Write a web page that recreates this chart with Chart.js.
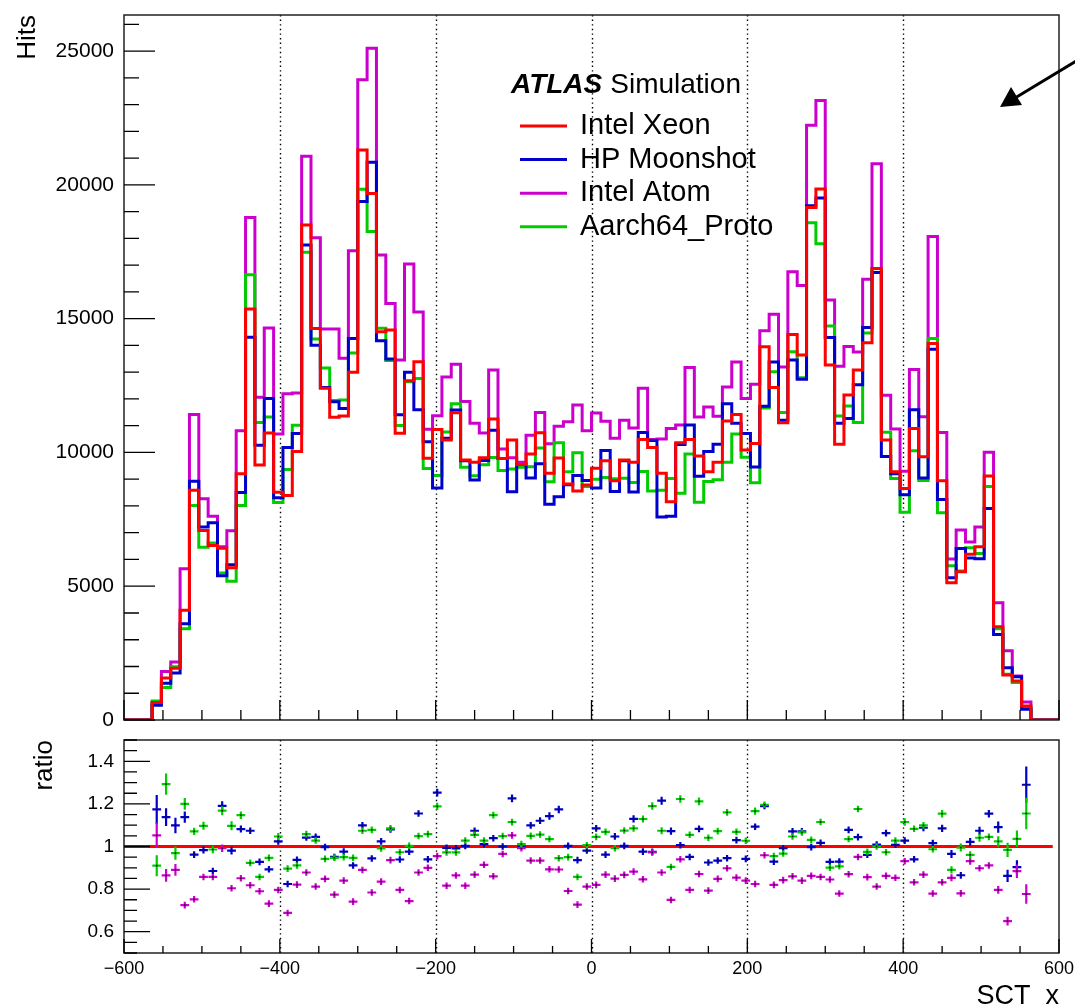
<!DOCTYPE html>
<html>
<head>
<meta charset="utf-8">
<script src="https://cdn.jsdelivr.net/npm/chart.js@4.4.1/dist/chart.umd.min.js"></script>
<style>
  html, body { margin: 0; padding: 0; background: #fff; overflow: hidden; }
  canvas { position: absolute; left: 0; }
  #hits { top: 0; }
  #ratio { top: 730px; }
</style>
</head>
<body>
<canvas id="hits" width="1075" height="730"></canvas>
<canvas id="ratio" width="1075" height="278"></canvas>
<script>
// SCT_x histograms: 100 bins of width 12 between -600 and 600
const xMin = -600, xMax = 600, binWidth = 12;
const firstBin = 3; // first filled bin, the ratio arrays start here
const seriesNames = ["Intel Xeon", "HP Moonshot", "Intel Atom", "Aarch64_Proto"];
const seriesColors = ["#ff0000", "#0000cc", "#cc00cc", "#00cc00"];
const hitTicks = [0, 5000, 10000, 15000, 20000, 25000];
const ratioTicks = [0.6, 0.8, 1, 1.2, 1.4];
const xTicks = [-600, -400, -200, 0, 200, 400, 600];
const dottedX = [-400, -200, 0, 200, 400];

//hits per bin (bins 0..99)
const xeon = [0, 0, 0,
  650, 1566, 1931, 4098, 8587, 7086, 6525, 6421, 5690, 9200,
  15360, 9527, 10727, 8509, 8391, 10035, 18498, 14637, 12395, 11311,
  11360, 12993, 21301, 19682, 14512, 14574, 10713, 12681, 13391, 9779,
  10862, 10464, 11485, 9716, 9629, 9803, 11248, 9778, 10464, 9554,
  9940, 10738, 9218, 9791, 8819, 8558, 8782, 9405, 9691, 8944,
  9716, 9629, 10488, 10189, 9218, 8159, 10364, 10488, 9866, 9280,
  9629, 11174, 11423, 10090, 10339, 13951, 12432, 11111, 14412, 13640,
  19158, 19843, 13266, 10302, 12145, 13080, 14100, 16879, 10464, 9280,
  8657, 10899, 9841, 14076, 8944, 5132, 5543, 6191, 6477, 9118,
  3488, 1682, 1457, 523,
  0, 0, 0];
const moonshot = [0, 0, 0,
  554, 1376, 1757, 3601, 8926, 7209, 7373, 5391, 5800, 8503,
  14302, 10266, 12012, 8310, 10183, 10710, 17752, 14007, 12432, 11894,
  11639, 14262, 19382, 20850, 14172, 13494, 11409, 12993, 11594, 10403,
  8669, 10527, 11589, 9687, 8966, 9696, 10826, 9778, 8535, 9554,
  9045, 9579, 8065, 8340, 8793, 9143, 8952, 8668, 10074, 8543,
  9687, 8521, 10746, 10450, 7587, 7611, 10300, 11028, 9110, 10032,
  10309, 11824, 11090, 10711, 9459, 11723, 13382, 11201, 13457, 12736,
  19216, 19511, 14295, 11089, 11266, 12529, 14672, 16728, 9844, 9206,
  8421, 11595, 9045, 13854, 8243, 5318, 6408, 6058, 6031, 7901,
  3197, 1951, 1614, 405,
  0, 0, 0];
const atom = [0, 0, 0,
  618, 1812, 2170, 5652, 11419, 8268, 7614, 6473, 7077, 10811,
  18778, 12059, 14654, 10690, 12196, 12223, 21068, 18026, 14617, 14614,
  13524, 17534, 23934, 25105, 17380, 15570, 13459, 17044, 15252, 10866,
  11374, 12824, 13293, 11907, 11093, 10725, 13079, 10133, 9800, 9631,
  10642, 11497, 10323, 10976, 11149, 11772, 10815, 11470, 11165, 10535,
  11206, 10917, 12397, 10483, 10499, 10893, 11026, 13176, 11327, 11702,
  11355, 12443, 13376, 12012, 12547, 14547, 15161, 13196, 16758, 16238,
  22225, 23154, 15699, 13225, 13960, 13754, 16472, 20787, 12139, 10879,
  9299, 13100, 11338, 18069, 10750, 6016, 7106, 6650, 7213, 10009,
  4382, 2588, 1648, 673,
  0, 0, 0];
const aarch64 = [0, 0, 0,
  714, 1211, 1993, 3415, 8018, 6459, 6618, 5497, 5187, 8021,
  16641, 11117, 11327, 8127, 9365, 11015, 17484, 14238, 13158, 11944,
  11958, 13720, 19833, 18258, 14644, 13432, 11010, 12643, 12766, 9400,
  9143, 10765, 11816, 9451, 9127, 9536, 9807, 9321, 9385, 9450,
  9467, 10169, 8906, 10361, 9283, 9986, 8730, 9000, 9065, 9016,
  9038, 8875, 9290, 8562, 8583, 9025, 8474, 9941, 8140, 8915,
  8982, 9633, 10686, 9825, 8867, 11665, 13018, 11490, 13765, 12795,
  18582, 17797, 14724, 11358, 11734, 11122, 14462, 16879, 10754, 9027,
  7764, 10064, 8955, 14262, 7750, 5766, 5571, 6442, 6222, 8725,
  3406, 1709, 1406, 453,
  0, 0, 0];

//ratio Xeon / other, bins 3..96
const ratioMoonshot = [
  1.174, 1.138, 1.099, 1.138, 0.962, 0.983, 0.885, 1.191, 0.981, 1.082,
  1.074, 0.928, 0.893, 1.024, 0.824, 0.937, 1.042, 1.045, 0.997, 0.951,
  0.976, 0.911, 1.099, 0.944, 1.024, 1.080, 0.939, 0.976, 1.155, 0.940,
  1.253, 0.994, 0.991, 1.003, 1.074, 1.011, 1.039, 1.000, 1.226, 1.000,
  1.099, 1.121, 1.143, 1.174, 1.003, 0.936, 0.981, 1.085, 0.962, 1.047,
  1.003, 1.130, 0.976, 0.975, 1.215, 1.072, 1.006, 0.951, 1.083, 0.925,
  0.934, 0.945, 1.030, 0.942, 1.093, 1.190, 0.929, 0.992, 1.071, 1.071,
  0.997, 1.017, 0.928, 0.929, 1.078, 1.044, 0.961, 1.009, 1.063, 1.008,
  1.028, 0.940, 1.088, 1.016, 1.085, 0.965, 0.865, 1.022, 1.074, 1.154,
  1.091, 0.862, 0.903, 1.290];
const ratioAtom = [
  1.052, 0.864, 0.890, 0.725, 0.752, 0.857, 0.857, 0.992, 0.804, 0.851,
  0.818, 0.790, 0.732, 0.796, 0.688, 0.821, 0.878, 0.812, 0.848, 0.774,
  0.840, 0.741, 0.890, 0.784, 0.835, 0.936, 0.796, 0.744, 0.878, 0.900,
  0.955, 0.816, 0.864, 0.816, 0.868, 0.914, 0.860, 0.965, 1.052, 0.992,
  0.934, 0.934, 0.893, 0.892, 0.791, 0.727, 0.812, 0.820, 0.868, 0.849,
  0.867, 0.882, 0.846, 0.972, 0.878, 0.749, 0.940, 0.796, 0.871, 0.793,
  0.848, 0.898, 0.854, 0.840, 0.824, 0.959, 0.820, 0.842, 0.860, 0.840,
  0.862, 0.857, 0.845, 0.779, 0.870, 0.951, 0.856, 0.812, 0.862, 0.853,
  0.931, 0.832, 0.868, 0.779, 0.832, 0.853, 0.780, 0.931, 0.898, 0.911,
  0.796, 0.650, 0.884, 0.777];
const ratioAarch64 = [
  0.910, 1.293, 0.969, 1.200, 1.071, 1.097, 0.986, 1.168, 1.097, 1.147,
  0.923, 0.857, 0.947, 1.047, 0.896, 0.911, 1.058, 1.028, 0.942, 0.947,
  0.950, 0.947, 1.074, 1.078, 0.991, 1.085, 0.973, 1.003, 1.049, 1.058,
  1.188, 0.972, 0.972, 1.028, 1.055, 1.028, 1.147, 1.049, 1.115, 1.011,
  1.050, 1.056, 1.035, 0.945, 0.950, 0.857, 1.006, 1.045, 1.069, 0.992,
  1.075, 1.085, 1.129, 1.190, 1.074, 0.904, 1.223, 1.055, 1.212, 1.041,
  1.072, 1.160, 1.069, 1.027, 1.166, 1.196, 0.955, 0.967, 1.047, 1.066,
  1.031, 1.115, 0.901, 0.907, 1.035, 1.176, 0.975, 1.000, 0.973, 1.028,
  1.115, 1.083, 1.099, 0.987, 1.154, 0.890, 0.995, 0.961, 1.041, 1.045,
  1.024, 0.984, 1.036, 1.155];

const FONT = '"Liberation Sans", Arial, Helvetica, sans-serif';

//step outline: point at left edge of every bin + closing point at xMax
const stepPoints = (counts) => {
  const pts = counts.map((c, i) => ({ x: xMin + i * binWidth, y: c }));
  pts.push({ x: xMax, y: counts[counts.length - 1] });
  return pts;
};

//ratio points at bin centres, statistical error from both histograms
const ratioPoints = (ratio, other) => ratio.map((r, k) => {
  const b = firstBin + k;
  return { x: xMin + (b + 0.5) * binWidth, y: r, err: r * Math.sqrt(1 / xeon[b] + 1 / other[b]) };
});

//keep the plot frame where the axes say, without label overflow padding
const fixWidth = (w) => (s) => { s.width = w; s.paddingTop = 0; s.paddingBottom = 0; };
const fixHeight = (h) => (s) => { s.height = h; s.paddingLeft = 0; s.paddingRight = 0; };

//frame, ROOT style inner ticks and dotted verticals
const framePlugin = {
  id: "frame",
  beforeDatasetsDraw(chart, args, o) {
    const { ctx, chartArea: a, scales: { x } } = chart;
    ctx.save();
    ctx.strokeStyle = "#000";
    ctx.lineWidth = 1.4;
    ctx.setLineDash([1.4, 3.2]);
    dottedX.forEach((v) => {
      const px = Math.round(x.getPixelForValue(v)) + 0.5;
      ctx.beginPath();
      ctx.moveTo(px, a.top);
      ctx.lineTo(px, a.bottom);
      ctx.stroke();
    });
    ctx.restore();
  },
  afterDatasetsDraw(chart, args, o) {
    const { ctx, chartArea: a, scales: { x, y } } = chart;
    ctx.save();
    ctx.strokeStyle = "#222";
    ctx.lineWidth = 1.5;
    ctx.strokeRect(a.left, a.top, a.right - a.left, a.bottom - a.top);
    ctx.strokeStyle = "#000";
    ctx.lineWidth = 1.3;
    ctx.beginPath();
    //x ticks
    for (let v = x.min; v <= x.max + 1e-9; v += o.xMinor) {
      const px = x.getPixelForValue(v);
      const major = Math.abs(Math.round(v / o.xMajor) * o.xMajor - v) < 1e-6;
      ctx.moveTo(px, a.bottom);
      ctx.lineTo(px, a.bottom - (major ? o.xMajorLen : o.xMinorLen));
    }
    //y ticks
    const start = Math.ceil((y.min - 1e-9) / o.yMinor) * o.yMinor;
    for (let v = start; v <= y.max + 1e-9; v += o.yMinor) {
      const py = y.getPixelForValue(v);
      const major = Math.abs(Math.round(v / o.yMajor) * o.yMajor - v) < 1e-6;
      ctx.moveTo(a.left, py);
      ctx.lineTo(a.left + (major ? o.yMajorLen : o.yMinorLen), py);
    }
    ctx.stroke();
    ctx.restore();
  },
};

//legend, label and arrow of the upper pad
const labelPlugin = {
  id: "labels",
  afterDraw(chart) {
    const { ctx } = chart;
    ctx.save();
    ctx.textBaseline = "middle";
    ctx.fillStyle = "#000";
    ctx.font = "italic bold 28px " + FONT;
    ctx.fillText("ATLAS", 511, 85);
    const w = ctx.measureText("ATLAS").width;
    ctx.font = "28px " + FONT;
    ctx.fillText("Simulation", 511 + w + 8, 85);
    ctx.font = "29px " + FONT;
    chart.data.datasets.forEach((ds, i) => {
      const yy = 126 + i * 33.6;
      ctx.strokeStyle = ds.borderColor;
      ctx.lineWidth = 3;
      ctx.beginPath();
      ctx.moveTo(520, yy);
      ctx.lineTo(567, yy);
      ctx.stroke();
      ctx.fillStyle = "#000";
      ctx.fillText(ds.label, 580, yy);
    });
    //arrow
    ctx.strokeStyle = "#000";
    ctx.fillStyle = "#000";
    ctx.lineWidth = 3;
    ctx.beginPath();
    ctx.moveTo(1078, 60);
    ctx.lineTo(1015, 98);
    ctx.stroke();
    ctx.beginPath();
    ctx.moveTo(1000, 107);
    ctx.lineTo(1011, 87);
    ctx.lineTo(1022, 105);
    ctx.closePath();
    ctx.fill();
    ctx.restore();
  },
};

//error bar crosses for the ratio pad
const crossPlugin = {
  id: "crosses",
  afterDatasetsDraw(chart) {
    const { ctx, scales: { x, y } } = chart;
    ctx.save();
    chart.data.datasets.forEach((ds) => {
      if (!ds.crosses) return;
      ctx.strokeStyle = ds.borderColor;
      ctx.lineWidth = 2.2;
      ds.data.forEach((p) => {
        const px = x.getPixelForValue(p.x);
        const py = y.getPixelForValue(p.y);
        const x0 = x.getPixelForValue(p.x - 0.47 * binWidth);
        const x1 = x.getPixelForValue(p.x + 0.47 * binWidth);
        const y0 = y.getPixelForValue(p.y - p.err);
        const y1 = y.getPixelForValue(p.y + p.err);
        ctx.beginPath();
        ctx.moveTo(x0, py);
        ctx.lineTo(x1, py);
        ctx.moveTo(px, Math.max(y0, py + 3.3));
        ctx.lineTo(px, Math.min(y1, py - 3.3));
        ctx.stroke();
        ctx.fillStyle = "#111";
        ctx.fillRect(px - 0.75, py - 0.75, 1.5, 1.5);
      });
    });
    ctx.restore();
  },
};

const hitSeries = [xeon, moonshot, atom, aarch64];
const drawOrder = [0, 1, 3, 2];

new Chart(document.getElementById("hits"), {
  type: "line",
  data: {
    datasets: hitSeries.map((counts, i) => ({
      label: seriesNames[i],
      data: stepPoints(counts),
      borderColor: seriesColors[i],
      borderWidth: 3,
      pointRadius: 0,
      stepped: "before",
      fill: false,
      order: drawOrder[i],
    })),
  },
  options: {
    responsive: false,
    animation: false,
    devicePixelRatio: 1,
    layout: { padding: { left: 0, right: 16, top: 15, bottom: 0 } },
    plugins: {
      legend: { display: false },
      tooltip: { enabled: false },
      frame: { xMinor: 50, xMajor: 200, xMajorLen: 20, xMinorLen: 10, yMinor: 1000, yMajor: 5000, yMajorLen: 31, yMinorLen: 15 },
    },
    scales: {
      x: {
        type: "linear",
        min: xMin,
        max: xMax,
        grid: { display: false, drawTicks: false },
        border: { display: false },
        ticks: { display: false },
        afterFit: fixHeight(10),
      },
      y: {
        min: 0,
        max: 26350,
        grid: { display: false, drawTicks: false },
        border: { display: false },
        afterBuildTicks: (s) => { s.ticks = hitTicks.map((v) => ({ value: v })); },
        ticks: { color: "#000", padding: 10, font: { family: FONT, size: 21 }, callback: (v) => String(v) },
        title: { display: true, text: "Hits", align: "end", color: "#000", font: { family: FONT, size: 26 }, padding: { top: 12, bottom: 0 } },
        afterFit: fixWidth(124),
      },
    },
  },
  plugins: [framePlugin, labelPlugin],
});

new Chart(document.getElementById("ratio"), {
  type: "scatter",
  data: {
    datasets: [
      {
        label: seriesNames[0],
        type: "line",
        data: [{ x: xMin, y: 1 }, { x: 592, y: 1 }],
        borderColor: seriesColors[0],
        borderWidth: 3,
        pointRadius: 0,
        order: 5,
      },
      { label: seriesNames[1], data: ratioPoints(ratioMoonshot, moonshot), borderColor: seriesColors[1], pointRadius: 0, crosses: true },
      { label: seriesNames[2], data: ratioPoints(ratioAtom, atom), borderColor: seriesColors[2], pointRadius: 0, crosses: true },
      { label: seriesNames[3], data: ratioPoints(ratioAarch64, aarch64), borderColor: seriesColors[3], pointRadius: 0, crosses: true },
    ],
  },
  options: {
    responsive: false,
    animation: false,
    devicePixelRatio: 1,
    layout: { padding: { left: 0, right: 16, top: 10, bottom: 0 } },
    plugins: {
      legend: { display: false },
      tooltip: { enabled: false },
      frame: { xMinor: 50, xMajor: 200, xMajorLen: 14, xMinorLen: 7, yMinor: 0.05, yMajor: 0.2, yMajorLen: 26, yMinorLen: 13 },
    },
    scales: {
      x: {
        type: "linear",
        min: xMin,
        max: xMax,
        grid: { display: false, drawTicks: false },
        border: { display: false },
        afterBuildTicks: (s) => { s.ticks = xTicks.map((v) => ({ value: v })); },
        ticks: { color: "#000", padding: 5, maxRotation: 0, font: { family: FONT, size: 18 }, callback: (v) => String(v).replace("-", "\u2212") },
        title: { display: true, text: "SCT_x", align: "end", color: "#000", font: { family: FONT, size: 27 }, padding: { top: 0, bottom: -5 } },
        afterFit: fixHeight(55),
      },
      y: {
        min: 0.5,
        max: 1.5,
        grid: { display: false, drawTicks: false },
        border: { display: false },
        afterBuildTicks: (s) => { s.ticks = ratioTicks.map((v) => ({ value: v })); },
        ticks: { color: "#000", padding: 10, font: { family: FONT, size: 19 }, callback: (v) => String(+v.toFixed(2)) },
        title: { display: true, text: "ratio", align: "end", color: "#000", font: { family: FONT, size: 26 }, padding: { top: 29, bottom: 0 } },
        afterFit: fixWidth(124),
      },
    },
  },
  plugins: [framePlugin, crossPlugin],
});
</script>
</body>
</html>
